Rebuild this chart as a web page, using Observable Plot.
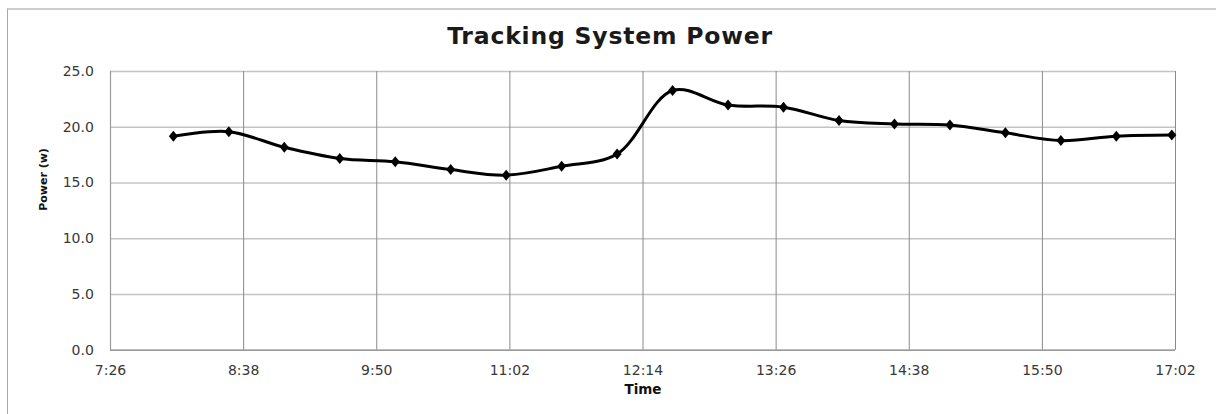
<!DOCTYPE html>
<html>
<head>
<meta charset="utf-8">
<script src="https://cdn.jsdelivr.net/npm/d3@7"></script>
<script src="https://cdn.jsdelivr.net/npm/@observablehq/plot@0.6"></script>
<style>
  html, body { margin: 0; padding: 0; background: #fff; overflow: hidden; }
  body { width: 1216px; height: 414px; position: relative; }
  #frame { position: absolute; left: 7px; top: 8px; width: 1400px; height: 600px;
           border-left: 1px solid #a8a8a8; border-top: 2px solid #cdcdcd; }
  #title { position: absolute; left: 0; width: 1220px; top: 25px; text-align: center;
           font-family: "DejaVu Sans", sans-serif; font-weight: bold; font-size: 23.5px;
           letter-spacing: 0.8px; line-height: 1; color: #1a1a1a; }
  #chart { position: absolute; left: 0; top: 55px; }
</style>
</head>
<body>
<div id="frame"></div>
<div id="title">Tracking System Power</div>
<div id="chart"></div>
<script>
const times = ["8:00","8:30","9:00","9:30","10:00","10:30","11:00","11:30","12:00","12:30",
               "13:00","13:30","14:00","14:30","15:00","15:30","16:00","16:30","17:00"];
const power = [19.2, 19.6, 18.2, 17.2, 16.9, 16.2, 15.7, 16.5, 17.6, 23.3,
               22.0, 21.8, 20.6, 20.3, 20.2, 19.5, 18.8, 19.2, 19.3];
const xTickLabels = ["7:26","8:38","9:50","11:02","12:14","13:26","14:38","15:50","17:02"];
const yTicks = [0, 5, 10, 15, 20, 25];

const toMin = s => { const [h, m] = s.split(":").map(Number); return h * 60 + m; };
const fmt = m => `${Math.floor(m / 60)}:${String(m % 60).padStart(2, "0")}`;
const data = times.map((t, i) => ({t: toMin(t), p: power[i]}));
const xTicks = xTickLabels.map(toMin);

const diamond = {
  draw(ctx, size) {
    const r = Math.sqrt(size / Math.PI);
    const w = 0.9 * r, h = 1.1 * r;
    ctx.moveTo(0, -h); ctx.lineTo(w, 0); ctx.lineTo(0, h); ctx.lineTo(-w, 0); ctx.closePath();
  }
};

const chart = Plot.plot({
  width: 1216,
  height: 359,
  marginLeft: 110,
  marginRight: 41,
  marginTop: 16,
  marginBottom: 64.3,
  style: {fontFamily: "DejaVu Sans, sans-serif", fontSize: "14px", color: "#383838", background: "transparent", overflow: "visible"},
  x: {type: "linear", domain: [xTicks[0], xTicks[xTicks.length - 1]]},
  y: {domain: [0, 25]},
  marks: [
    Plot.gridY(yTicks, {stroke: "#c4c4c4", strokeOpacity: 1, strokeWidth: 1.5}),
    Plot.gridX(xTicks, {stroke: "#8a8a8a", strokeOpacity: 1, strokeWidth: 1}),
    Plot.ruleY([0], {stroke: "#9a9a9a", strokeWidth: 1.5}),
    Plot.ruleX([xTicks[0]], {stroke: "#9a9a9a", strokeWidth: 1.2}),
    Plot.axisX(xTicks, {tickSize: 0, tickPadding: 15, tickFormat: fmt, label: null, fontSize: 14, fill: "#383838"}),
    Plot.axisY(yTicks, {tickSize: 0, tickPadding: 16.7, tickFormat: d => d.toFixed(1), label: null, fontSize: 14, fill: "#383838"}),
    Plot.text(["Time"], {frameAnchor: "bottom", dy: 43.3, fontWeight: "bold", fontSize: 13.5, fill: "#111"}),
    Plot.text(["Power (w)"], {frameAnchor: "left", dx: -67, rotate: -90, fontWeight: "bold", fontSize: 11, fill: "#111"}),
    Plot.line(data, {x: "t", y: "p", curve: "catmull-rom", stroke: "#000", strokeWidth: 3}),
    Plot.dot(data, {x: "t", y: "p", r: 5, fill: "#000", stroke: "none", symbol: diamond})
  ]
});
document.getElementById("chart").appendChild(chart);
</script>
</body>
</html>
